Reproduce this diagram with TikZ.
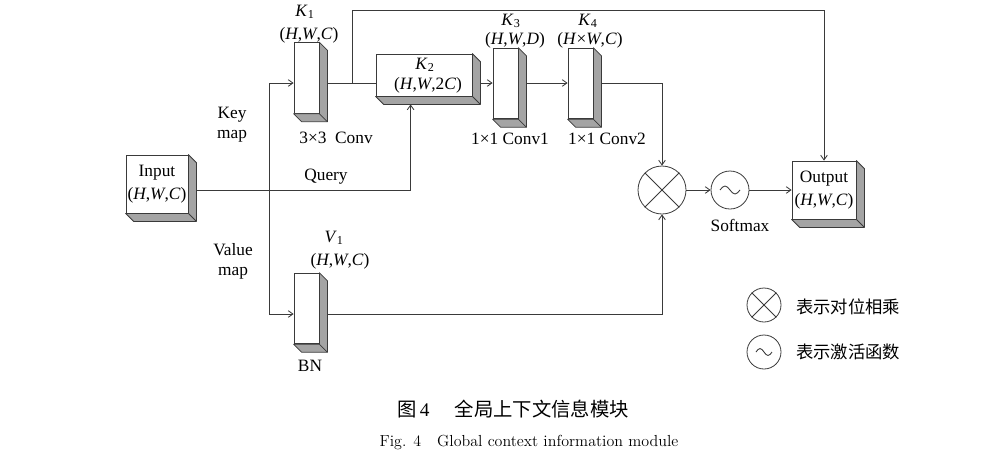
\documentclass[tikz,border=0pt]{standalone}
\usepackage{fontspec}
\newfontfamily\tnr{Liberation Serif}
\newfontfamily\cjk{Noto Sans CJK SC}
\usetikzlibrary{arrows.meta,calc}
\definecolor{linec}{HTML}{3A3A3A}
\definecolor{shadec}{HTML}{A4A4A4}
\newcommand\hwc{(\textit{H},\textit{W},\textit{C})}
\newcommand\boxshade[1]{%
  \filldraw[fill=shadec,draw=linec,line width=0.6pt,line join=round]
    (#1.north east) -- ++(8,8) -- ($(#1.south east)+(8,8)$) -- ($(#1.south west)+(8,8)$)
    -- (#1.south west) -- (#1.south east) -- cycle;
  \draw[linec,line width=0.6pt] (#1.south east) -- ++(8,8);}
\begin{document}
\begin{tikzpicture}[x=0.75pt,y=-0.75pt,
  every node/.style={font=\tnr\fontsize{13}{15}\selectfont},
  lc/.style={draw=linec,line width=0.65pt},
  arr/.style={lc,-{Straight Barb[length=3.5pt,width=5pt]}},
  front/.style={draw=linec,fill=white,inner sep=0pt,line width=0.6pt},
  lab/.style={inner sep=0pt,align=center},
  vbox/.style={front,minimum width=18.75pt,minimum height=53pt},
  opc/.style={circle,draw=linec,line width=0.6pt,inner sep=0pt}]
\useasboundingbox (0,0) rectangle (1000,472);
% boxes
\node[front,minimum width=46.5pt,minimum height=43.5pt,align=center] (inp) at (157,184) {Input\\[2pt]\hwc};
\boxshade{inp}
\node[vbox] (k1) at (306.5,78) {};
\boxshade{k1}
\node[front,minimum width=72pt,minimum height=31.5pt] (k2) at (424,75) {};
\boxshade{k2}
\node[vbox] (k3) at (505.5,83.5) {};
\boxshade{k3}
\node[vbox] (k4) at (580.5,83.5) {};
\boxshade{k4}
\node[vbox] (bn) at (306.5,308.5) {};
\boxshade{bn}
\node[front,minimum width=48pt,minimum height=43.5pt,align=center] (out) at (824,190) {Output\\[2pt]\hwc};
\boxshade{out}
% operators
\node[opc,minimum size=36pt] (mul) at (662,190) {};
\draw[lc] (mul.north west) -- (mul.south east) (mul.north east) -- (mul.south west);
\node[opc,minimum size=28.5pt] (soft) at (730,190) {};
\draw[lc] ($(soft)+(-10,0)$) sin ++(5,-4) cos ++(5,4) sin ++(5,4) cos ++(5,-4);
% labels
\node[lab] (lk1) at (305,12) {\textit{K}\textsubscript{1}};
\node[lab] (lk1s) at (309,35) {\hwc};
\node[lab] (lconv) at (336,138) {3×3\enspace Conv};
\node[lab] (lk2) at (425,65) {\textit{K}\textsubscript{2}};
\node[lab] (lk2s) at (428,85) {(\textit{H},\textit{W},2\textit{C})};
\node[lab] (lk3) at (511,21) {\textit{K}\textsubscript{3}};
\node[lab] (lk3s) at (515,40) {(\textit{H},\textit{W},\textit{D})};
\node[lab] (lk4) at (588,21) {\textit{K}\textsubscript{4}};
\node[lab] (lk4s) at (590,40) {(\textit{H}×\textit{W},\textit{C})};
\node[lab] (lc1) at (510,139) {1×1 Conv1};
\node[lab] (lc2) at (607,139) {1×1 Conv2};
\node[lab] (lkey) at (232,125) {Key\\map};
\node[lab] (lq) at (326,177) {Query};
\node[lab] (lval) at (233,261) {Value\\map};
\node[lab] (lv1) at (334,238) {\textit{V}\textsubscript{1}};
\node[lab] (lv1s) at (340,261) {\hwc};
\node[lab] (lbn) at (310,366) {BN};
\node[lab] (lsm) at (740,225) {Softmax};
% connectors
\coordinate (kv) at (269,83);
\coordinate (vb) at (269,314);
\coordinate (br) at (352,83);
\coordinate (tp) at (352,10);
\draw[arr] (kv) -- (kv -| k1.west);
\draw[lc] (kv) -- (vb);
\draw[arr] (vb) -- (vb -| bn.west);
\draw[lc] ($(k1.east |- kv)+(8,0)$) -- (kv -| k2.west);
\draw[arr] ($(k2.east |- kv)+(8,0)$) -- (kv -| k3.west);
\draw[arr] ($(k3.east |- kv)+(8,0)$) -- (kv -| k4.west);
\draw[arr] ($(k4.east |- kv)+(8,0)$) -| (mul.north);
\draw[arr] (br) -- (tp) -| (out.north);
\draw[arr] ($(inp.east)+(8,6)$) -| ($(k2.south west)+(35,8)$);
\draw[arr] ($(bn.east |- vb)+(8,0)$) -| (mul.south);
\draw[arr] (mul) -- (soft);
\draw[arr] (soft) -- (soft -| out.west);
% legend
\node[opc,minimum size=25.5pt] (lg1) at (764,305) {};
\draw[lc] (lg1.north west) -- (lg1.south east) (lg1.north east) -- (lg1.south west);
\node[opc,minimum size=25.5pt] (lg2) at (764,352) {};
\draw[lc] ($(lg2)+(-8,0)$) sin ++(4,-3.5) cos ++(4,3.5) sin ++(4,3.5) cos ++(4,-3.5);
\node[lab,anchor=west,font=\cjk\fontsize{13}{15}\selectfont] (lt1) at (796,307) {表示对位相乘};
\node[lab,anchor=west,font=\cjk\fontsize{13}{15}\selectfont] (lt2) at (796,352) {表示激活函数};
% captions
\node[lab,font=\fontsize{14.5}{16}\selectfont] (cap1) at (513,409) {{\cjk 图}\,{\tnr 4}\hspace{1.3em}{\cjk 全局上下文信息模块}};
\node[lab,font=\rmfamily\fontsize{12}{14}\selectfont] (cap2) at (529,442) {Fig. 4\quad Global context information module};
\end{tikzpicture}
\end{document}
